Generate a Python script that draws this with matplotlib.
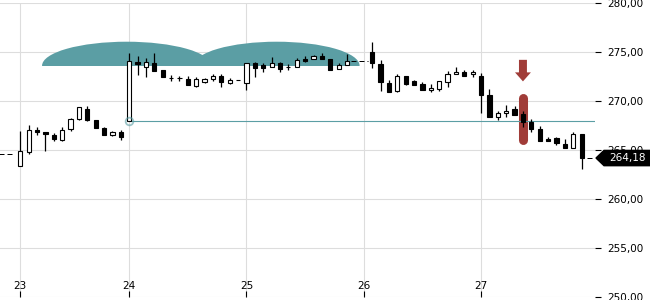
import matplotlib
matplotlib.use('Agg')
import matplotlib.pyplot as plt
from matplotlib import transforms
from matplotlib.patches import Ellipse, Rectangle, Polygon, FancyArrow

# hourly slots, two missing at the start of day 26
SLOTS = list(range(0, 40)) + list(range(42, 68))
OPEN = [263.4, 264.8, 267.05, 266.8, 266.5, 266.0, 267.1, 268.15, 269.2, 268.05,
        267.2, 266.55, 266.85,
        267.95, 274.0, 273.5, 273.9, 273.15, 272.35, 272.3, 272.25, 271.55, 271.95,
        272.2, 272.55, 271.85, 272.1,
        271.8, 273.85, 273.7, 273.45, 273.9, 273.45, 273.45, 274.3, 274.25, 274.55,
        274.3, 273.25, 273.65,
        274.95, 273.8, 271.85, 271.05, 272.5, 272.0, 271.75, 271.1, 271.25, 271.95,
        272.75, 273.0, 272.75,
        272.5, 270.6, 268.35, 268.75, 269.2, 268.65, 267.9, 267.1, 266.1, 266.2,
        265.6, 265.25, 266.65]
HIGH = [266.9, 267.6, 267.35, 266.85, 266.7, 267.3, 268.3, 269.4, 269.45, 268.1,
        267.35, 266.95, 267.05,
        274.85, 274.55, 274.4, 274.85, 273.15, 272.7, 272.6, 272.6, 272.4, 272.3,
        272.8, 272.8, 272.3, 272.1,
        273.9, 274.0, 273.9, 274.5, 274.0, 273.8, 274.4, 274.6, 274.7, 274.9,
        274.3, 273.85, 274.75,
        276.0, 274.2, 272.1, 272.8, 272.6, 272.15, 271.95, 271.75, 272.05, 273.05,
        273.45, 273.15, 273.2,
        272.9, 271.25, 269.0, 269.6, 269.5, 269.0, 268.15, 267.4, 266.35, 266.35,
        266.1, 266.85, 266.65]
LOW = [263.4, 264.6, 266.55, 264.85, 265.95, 265.95, 266.9, 268.1, 268.0, 267.2,
       266.5, 266.4, 266.05,
       267.95, 272.7, 272.4, 273.1, 272.45, 272.0, 272.0, 271.6, 271.45, 271.85,
       272.0, 271.45, 271.7, 272.1,
       271.15, 272.4, 272.95, 273.45, 272.95, 273.15, 273.45, 273.95, 274.25, 274.3,
       273.2, 273.25, 273.65,
       273.35, 271.0, 270.9, 270.9, 271.6, 271.65, 271.1, 270.9, 271.0, 271.4,
       272.75, 272.6, 272.5,
       268.8, 268.35, 268.05, 268.35, 268.55, 267.3, 266.85, 265.95, 265.95, 265.5,
       265.25, 265.25, 263.05]
CLOSE = [264.85, 267.05, 266.8, 266.6, 266.1, 267.0, 268.15, 269.35, 268.05, 267.2,
         266.5, 266.8, 266.35,
         274.05, 273.75, 274.0, 273.1, 272.45, 272.35, 272.3, 271.65, 272.2, 272.2,
         272.6, 271.9, 272.15, 272.1,
         273.9, 273.35, 273.4, 273.9, 273.3, 273.45, 274.15, 274.1, 274.55, 274.3,
         273.2, 273.65, 274.05,
         273.85, 271.95, 270.95, 272.5, 271.75, 271.65, 271.1, 271.35, 272.05, 272.8,
         273.0, 272.6, 273.0,
         270.6, 268.35, 268.75, 269.0, 268.55, 267.9, 267.1, 265.95, 265.95, 265.7,
         265.25, 266.65, 264.18]

DAY_SLOTS = [0, 13, 27, 41, 55]
DAY_LABELS = ['23', '24', '25', '26', '27']
Y_TICKS = [250, 255, 260, 265, 270, 275, 280]

# dashed "no trade" segments at the previous close: (from, to, price)
GAPS = [(-2.5, -0.6, 264.6), (39.5, 41.5, 274.05), (67.6, 68.4, 264.18)]

# two teal domes above day 24/25: (centre slot, half width)
DOMES = [(12.7, 10.1), (30.6, 9.9)]
DOME_BASE = 273.6
DOME_HEIGHT = 2.45

REF_SLOT = 13
SIGNAL_SLOT = 60
SIGNAL_RANGE = (265.6, 270.8)
ARROW_RANGE = (274.2, 272.0)
LAST = 264.18

TEAL = '#5b9ea4'
RED = '#a03c38'


def fmt_de(v):
    return f'{v:.2f}'.replace('.', ',')


def main():
    plt.rcParams['font.family'] = ['DejaVu Sans']
    fig = plt.figure(figsize=(6.5, 3), dpi=100)
    ax = fig.add_axes([0, 0.01, 595 / 650, 0.98])
    ax.set_xlim(-2.42, 68.6)
    ax.set_ylim(250, 280)
    for s in ax.spines.values():
        s.set_visible(False)

    ax.set_axisbelow(True)
    ax.grid(True, color='#dddddd', lw=0.8)

    # domes
    clip = Rectangle((-10, DOME_BASE), 100, 20, transform=ax.transData)
    for cx, hw in DOMES:
        e = Ellipse((cx, DOME_BASE), 2 * hw, 2 * DOME_HEIGHT, color=TEAL, lw=0, zorder=1)
        ax.add_patch(e)
        e.set_clip_path(clip)

    # reference line from the low of the breakout bar
    ref_low = LOW[SLOTS.index(REF_SLOT)]
    ax.hlines(ref_low, REF_SLOT, 68.6, color=TEAL, lw=0.8, zorder=1.8)

    # signal marker
    pad = 0.46
    ax.plot([SIGNAL_SLOT, SIGNAL_SLOT], [SIGNAL_RANGE[0] + pad, SIGNAL_RANGE[1] - pad],
            color=RED, lw=6.5, solid_capstyle='round', zorder=1.5)
    ax.add_patch(FancyArrow(SIGNAL_SLOT, ARROW_RANGE[0], 0, ARROW_RANGE[1] - ARROW_RANGE[0],
                            width=0.95, head_width=1.9, head_length=0.92,
                            length_includes_head=True, color=RED, lw=0, zorder=3))

    # gaps
    for x0, x1, p in GAPS:
        ax.plot([x0, x1], [p, p], color='black', lw=0.72, ls=(0, (5, 3)), zorder=2)

    # candles
    for x, o, h, l, c in zip(SLOTS, OPEN, HIGH, LOW, CLOSE):
        ax.vlines(x, l, h, color='black', lw=0.9, zorder=2)
        bottom = min(o, c)
        height = max(abs(c - o), 0.04)
        face = 'white' if c > o else 'black'
        ax.bar(x, height, bottom=bottom, width=0.5, color=face, edgecolor='black',
               linewidth=0.8, zorder=3)

    ax.plot([REF_SLOT], [ref_low], 'o', mfc='none', mec=TEAL, mew=1.3, ms=5.5,
            alpha=0.6, zorder=4)

    # axes
    ax.yaxis.tick_right()
    ax.set_yticks(Y_TICKS)
    ax.set_yticklabels([fmt_de(v) for v in Y_TICKS])
    ax.tick_params(axis='y', length=4, width=0.8, pad=5, labelsize=7.5)
    ax.set_xticks(DAY_SLOTS)
    ax.set_xticklabels(DAY_LABELS)
    ax.tick_params(axis='x', direction='in', length=4, width=0.8, pad=-11.5, labelsize=7.5)

    # last price tag
    tr = transforms.blended_transform_factory(fig.transFigure, ax.transData)
    hh = 0.78
    tag = Polygon([(596 / 650, LAST), (604 / 650, LAST + hh), (1.0, LAST + hh),
                   (1.0, LAST - hh), (604 / 650, LAST - hh)],
                  closed=True, transform=tr, color='black', zorder=5)
    fig.add_artist(tag)
    fig.text(627 / 650, LAST, fmt_de(LAST), transform=tr, color='white',
             fontsize=7.5, ha='center', va='center', zorder=6)

    fig.savefig('out.png', dpi=100)


if __name__ == '__main__':
    main()
